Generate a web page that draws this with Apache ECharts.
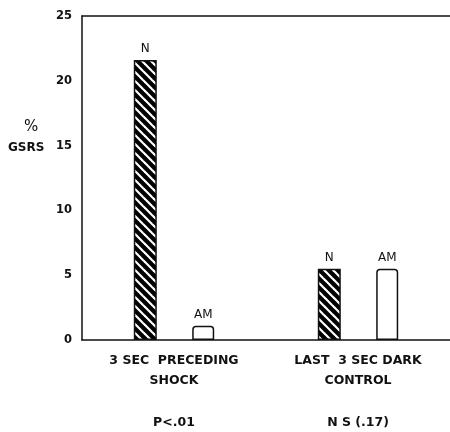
<!DOCTYPE html>
<html>
<head>
<meta charset="utf-8">
<script src="https://cdn.jsdelivr.net/npm/echarts@6/dist/echarts.min.js"></script>
<style>
  html, body { margin: 0; padding: 0; background: #fff; }
  #chart { width: 450px; height: 432px; }
</style>
</head>
<body>
<div id="chart"></div>
<script>
// Data
var categories = ['3 SEC  PRECEDING\nSHOCK', 'LAST  3 SEC DARK\nCONTROL'];
var pValues = ['P<.01', 'N S (.17)'];
var nValues = [21.6, 5.5];
var amValues = [1.1, 5.5];
var yTicks = [0, 5, 10, 15, 20, 25];

// Hatch pattern: black with white diagonal stripes
var makeHatch = function () {
    var c = document.createElement('canvas');
    c.width = 9;
    c.height = 9;
    var ctx = c.getContext('2d');
    ctx.fillStyle = '#000';
    ctx.fillRect(0, 0, 9, 9);
    ctx.strokeStyle = '#fff';
    ctx.lineWidth = 2.2;
    [-9, 0, 9].forEach(function (k) {
        ctx.beginPath();
        ctx.moveTo(-2, -2 + k);
        ctx.lineTo(11, 11 + k);
        ctx.stroke();
    });
    return c;
};

var el = document.getElementById('chart');
var chart = echarts.init(el);

var font = '"DejaVu Sans", Arial, sans-serif';

chart.setOption({
    animation: false,
    textStyle: { fontFamily: font, color: '#111' },
    grid: { left: 82, right: 0, top: 16, bottom: 92 },
    xAxis: [{
        type: 'category',
        data: categories,
        axisLine: { lineStyle: { color: '#111', width: 1.5 } },
        axisTick: { show: false },
        axisLabel: {
            margin: 11,
            interval: 0,
            formatter: function (v, i) {
                var lines = v.split('\n');
                return '{a|' + lines[0] + '}\n{a|' + lines[1] + '}\n{p|' + pValues[i] + '}';
            },
            rich: {
                a: { fontFamily: font, fontSize: 12.5, fontWeight: 'bold', color: '#111', lineHeight: 20 },
                p: { fontFamily: font, fontSize: 12.5, fontWeight: 'bold', color: '#111', lineHeight: 64 }
            }
        }
    }, {
        type: 'category',
        position: 'top',
        data: categories,
        axisLine: { lineStyle: { color: '#111', width: 1.5 } },
        axisTick: { show: false },
        axisLabel: { show: false }
    }],
    yAxis: {
        type: 'value',
        min: yTicks[0],
        max: yTicks[yTicks.length - 1],
        interval: 5,
        axisLine: { show: true, lineStyle: { color: '#111', width: 1.5 } },
        axisTick: { show: false },
        splitLine: { show: false },
        axisLabel: {
            margin: 10,
            fontSize: 11.5,
            fontWeight: 'bold',
            color: '#111',
            fontFamily: font
        }
    },
    graphic: [
        { type: 'text', left: 24, top: 120, style: { text: '%', fontSize: 15, fontFamily: font, fill: '#111' } },
        { type: 'text', left: 8, top: 142, style: { text: 'GSRS', fontSize: 12, fontWeight: 'bold', fontFamily: font, fill: '#111' } }
    ],
    series: [{
        name: 'N',
        type: 'bar',
        data: nValues,
        barWidth: 23,
        barGap: '154%',
        itemStyle: {
            color: { image: makeHatch(), repeat: 'repeat' },
            borderColor: '#111',
            borderWidth: 1.5
        },
        label: {
            show: true,
            position: 'top',
            distance: 5,
            formatter: 'N',
            fontSize: 12,
            fontFamily: font,
            color: '#111'
        }
    }, {
        name: 'AM',
        type: 'bar',
        data: amValues,
        barWidth: 22,
        itemStyle: {
            color: '#fff',
            borderColor: '#111',
            borderWidth: 1.5,
            borderRadius: [3, 3, 0, 0]
        },
        label: {
            show: true,
            position: 'top',
            distance: 5,
            formatter: 'AM',
            fontSize: 12,
            fontFamily: font,
            color: '#111'
        }
    }]
});
</script>
</body>
</html>
